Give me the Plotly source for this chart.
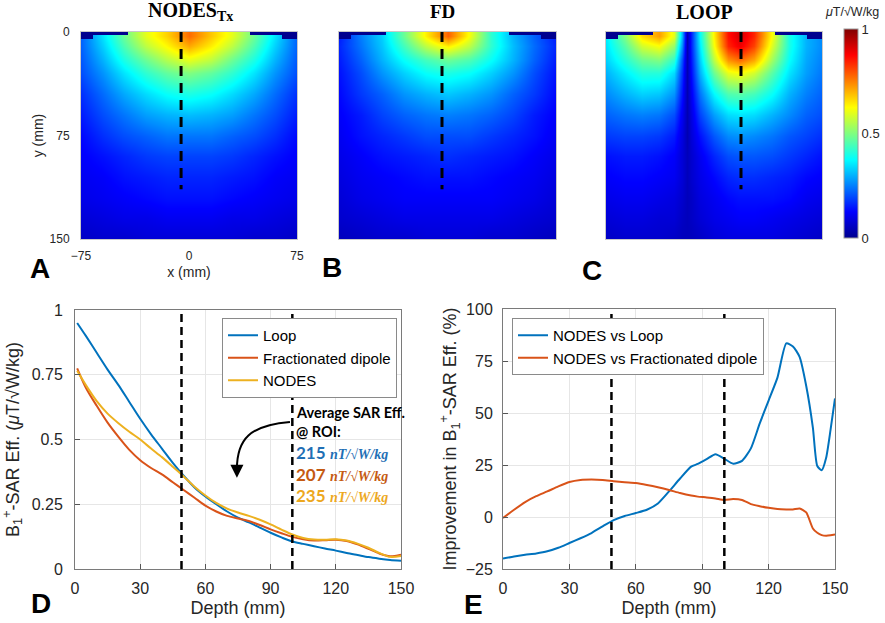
import plotly.graph_objects as go

W, H = 885, 623

hm_depth = [3, 10, 20, 30, 45, 60, 75, 90, 105, 120, 135, 150]

nodes_x = [-75, -60, -45, -30, -15, 0, 15, 30, 45, 60, 75]
nodes_z = [
    [0.22, 0.35, 0.48, 0.60, 0.67, 0.77, 0.68, 0.60, 0.48, 0.35, 0.22],
    [0.22, 0.33, 0.45, 0.56, 0.63, 0.71, 0.64, 0.56, 0.45, 0.33, 0.22],
    [0.21, 0.30, 0.40, 0.48, 0.55, 0.60, 0.56, 0.48, 0.40, 0.30, 0.21],
    [0.20, 0.27, 0.35, 0.42, 0.47, 0.50, 0.47, 0.42, 0.35, 0.27, 0.20],
    [0.17, 0.23, 0.29, 0.34, 0.38, 0.40, 0.38, 0.34, 0.29, 0.23, 0.17],
    [0.15, 0.20, 0.24, 0.28, 0.30, 0.31, 0.30, 0.28, 0.24, 0.20, 0.15],
    [0.13, 0.17, 0.20, 0.22, 0.24, 0.24, 0.24, 0.22, 0.20, 0.17, 0.13],
    [0.12, 0.14, 0.16, 0.18, 0.19, 0.19, 0.19, 0.18, 0.16, 0.14, 0.12],
    [0.11, 0.12, 0.14, 0.15, 0.16, 0.16, 0.16, 0.15, 0.14, 0.12, 0.11],
    [0.10, 0.11, 0.12, 0.13, 0.14, 0.14, 0.14, 0.13, 0.12, 0.11, 0.10],
    [0.08, 0.09, 0.10, 0.10, 0.11, 0.11, 0.11, 0.10, 0.10, 0.09, 0.08],
    [0.06, 0.07, 0.07, 0.08, 0.08, 0.08, 0.08, 0.08, 0.07, 0.07, 0.06],
]

fd_x = [-75, -60, -45, -30, -15, 0, 15, 30, 45, 60, 75]
fd_z = [
    [0.15, 0.25, 0.33, 0.48, 0.64, 0.78, 0.62, 0.42, 0.30, 0.22, 0.15],
    [0.16, 0.24, 0.32, 0.44, 0.56, 0.64, 0.56, 0.42, 0.31, 0.23, 0.16],
    [0.15, 0.22, 0.30, 0.38, 0.44, 0.48, 0.45, 0.38, 0.30, 0.22, 0.15],
    [0.14, 0.20, 0.27, 0.33, 0.38, 0.40, 0.38, 0.33, 0.27, 0.20, 0.14],
    [0.13, 0.18, 0.22, 0.27, 0.30, 0.32, 0.30, 0.27, 0.22, 0.18, 0.13],
    [0.12, 0.15, 0.19, 0.22, 0.24, 0.25, 0.24, 0.22, 0.19, 0.15, 0.12],
    [0.11, 0.14, 0.16, 0.18, 0.20, 0.20, 0.20, 0.18, 0.16, 0.14, 0.11],
    [0.10, 0.12, 0.14, 0.15, 0.16, 0.17, 0.16, 0.15, 0.14, 0.12, 0.10],
    [0.09, 0.11, 0.12, 0.13, 0.14, 0.14, 0.14, 0.13, 0.12, 0.11, 0.09],
    [0.08, 0.10, 0.11, 0.12, 0.12, 0.12, 0.12, 0.12, 0.11, 0.10, 0.08],
    [0.07, 0.08, 0.09, 0.10, 0.10, 0.10, 0.10, 0.10, 0.09, 0.08, 0.07],
    [0.05, 0.06, 0.07, 0.07, 0.08, 0.08, 0.08, 0.07, 0.07, 0.06, 0.05],
]

loop_x = [-75, -62, -50, -38, -28, -22, -19, -16, -10, 0, 10, 18, 28, 40, 52, 64, 75]
loop_z = [
    [0.36, 0.50, 0.66, 0.72, 0.60, 0.30, 0.04, 0.15, 0.38, 0.64, 0.86, 0.92, 0.84, 0.62, 0.40, 0.30, 0.26],
    [0.35, 0.46, 0.58, 0.62, 0.52, 0.26, 0.04, 0.15, 0.36, 0.62, 0.84, 0.89, 0.81, 0.59, 0.40, 0.30, 0.26],
    [0.33, 0.41, 0.48, 0.50, 0.42, 0.20, 0.04, 0.14, 0.33, 0.56, 0.73, 0.77, 0.71, 0.53, 0.38, 0.29, 0.25],
    [0.30, 0.36, 0.41, 0.41, 0.34, 0.17, 0.04, 0.13, 0.30, 0.48, 0.60, 0.62, 0.58, 0.46, 0.35, 0.28, 0.24],
    [0.26, 0.30, 0.33, 0.32, 0.27, 0.14, 0.04, 0.11, 0.24, 0.37, 0.45, 0.46, 0.44, 0.38, 0.30, 0.25, 0.22],
    [0.22, 0.24, 0.25, 0.24, 0.20, 0.11, 0.04, 0.09, 0.19, 0.28, 0.34, 0.35, 0.34, 0.30, 0.26, 0.22, 0.20],
    [0.18, 0.19, 0.19, 0.18, 0.15, 0.09, 0.04, 0.08, 0.14, 0.21, 0.26, 0.27, 0.26, 0.24, 0.21, 0.19, 0.17],
    [0.14, 0.15, 0.15, 0.14, 0.12, 0.08, 0.05, 0.07, 0.11, 0.16, 0.20, 0.21, 0.21, 0.20, 0.18, 0.16, 0.14],
    [0.12, 0.13, 0.13, 0.12, 0.11, 0.08, 0.05, 0.07, 0.10, 0.13, 0.16, 0.17, 0.17, 0.16, 0.15, 0.13, 0.12],
    [0.10, 0.11, 0.11, 0.10, 0.09, 0.07, 0.05, 0.06, 0.09, 0.11, 0.13, 0.14, 0.14, 0.14, 0.13, 0.11, 0.10],
    [0.08, 0.09, 0.09, 0.08, 0.08, 0.06, 0.05, 0.06, 0.08, 0.10, 0.11, 0.12, 0.12, 0.11, 0.10, 0.09, 0.08],
    [0.06, 0.07, 0.07, 0.07, 0.06, 0.05, 0.05, 0.05, 0.06, 0.08, 0.09, 0.09, 0.09, 0.09, 0.08, 0.07, 0.06],
]

# air gap strip at the top of each map (x edges, depth edges)
strip_x_edges = [-75, -66.5, -42.4, 42.4, 64.6, 75]
strip_y_edges = [0, 2, 5]
strip_z = [[0, 0, None, 0, 0], [0, None, None, None, 0]]

# dashed profile lines on the maps: x position of each and depth extent
probe_x = [-5.5, -3.8, 18.75]
probe_depth = [0, 114]

map_titles = ["<b>NODES<sub>Tx</sub></b>", "<b>FD</b>", "<b>LOOP</b>"]

# ---------------- line plot data ----------------
depth_d = [1, 5, 10, 15, 20, 25, 30, 35, 40, 45, 50, 55, 60, 65, 70, 75, 80, 85, 90, 95,
           100, 105, 110, 115, 120, 125, 130, 135, 140, 145, 150]
loop_eff = [0.95, 0.90, 0.835, 0.77, 0.71, 0.645, 0.58, 0.52, 0.465, 0.41, 0.36, 0.315, 0.28,
            0.25, 0.222, 0.198, 0.18, 0.16, 0.14, 0.122, 0.106, 0.097, 0.088, 0.079, 0.071,
            0.062, 0.054, 0.046, 0.04, 0.035, 0.032]
fd_eff = [0.775, 0.70, 0.63, 0.565, 0.51, 0.46, 0.42, 0.39, 0.365, 0.335, 0.305, 0.275, 0.245,
          0.222, 0.205, 0.195, 0.185, 0.17, 0.153, 0.138, 0.124, 0.115, 0.11, 0.111, 0.113,
          0.108, 0.095, 0.078, 0.06, 0.049, 0.055]
nodes_eff = [0.765, 0.71, 0.648, 0.60, 0.563, 0.53, 0.50, 0.465, 0.432, 0.395, 0.357, 0.318,
             0.284, 0.255, 0.233, 0.218, 0.205, 0.19, 0.172, 0.152, 0.133, 0.12, 0.114, 0.113,
             0.115, 0.11, 0.098, 0.082, 0.062, 0.047, 0.05]

depth_e = [0, 5, 10, 15, 20, 25, 30, 35, 40, 45, 50, 55, 60, 65, 70, 75, 80, 85, 88, 92, 96,
           100, 104, 108, 112, 116, 120, 124, 128, 131, 134, 137, 140, 142, 144, 146, 148, 150]
vs_loop = [-20, -19, -18.2, -17.5, -16.5, -14.8, -12.5, -10.2, -7.7, -4.5, -1.5, 0.5, 1.9, 3.5,
           6.5, 12.3, 18.5, 24.2, 25.5, 27.8, 30.2, 28, 25.6, 27, 33, 45, 56, 67, 83.5, 82, 77,
           63, 43, 24.5, 22.5, 28.5, 42, 57]
vs_fd = [-0.5, 3.5, 7.2, 10, 12.3, 14.7, 16.8, 17.8, 18, 17.8, 17.2, 16.7, 16.3, 15.4, 14.3, 13,
         11.5, 10.3, 9.8, 9.4, 8.9, 8.2, 8.6, 8.2, 6.2, 5.2, 4.4, 3.8, 3.6, 3.6, 4.1, 2.2, -5.5,
         -7.6, -8.7, -9.0, -8.8, -8.4]

roi_bounds = [49, 100]
avg_eff_values = [215, 207, 235]

BLUE, ORANGE, YELLOW = "#0072BD", "#D95319", "#EDB120"
TXT_COLORS = ["#1F6FB5", "#C55A11", "#EDA81E"]

jet = [[0.0, "rgb(0,0,143)"], [0.125, "rgb(0,0,255)"], [0.375, "rgb(0,255,255)"],
       [0.625, "rgb(255,255,0)"], [0.875, "rgb(255,0,0)"], [1.0, "rgb(128,0,0)"]]


def px(x):
    return x / W


def py(y):
    return 1 - y / H


fig = go.Figure()

maps = [(nodes_x, nodes_z), (fd_x, fd_z), (loop_x, loop_z)]
for i, (mx, mz) in enumerate(maps):
    ax = "" if i == 0 else str(i + 1)
    fig.add_trace(go.Heatmap(x=mx, y=hm_depth, z=mz, coloraxis="coloraxis", zsmooth="best",
                             xaxis="x" + ax, yaxis="y" + ax, hoverinfo="skip"))
    fig.add_trace(go.Heatmap(x=strip_x_edges, y=strip_y_edges, z=strip_z, coloraxis="coloraxis",
                             xaxis="x" + ax, yaxis="y" + ax, hoverinfo="skip"))
    fig.add_trace(go.Scatter(x=[probe_x[i]] * 2, y=probe_depth, mode="lines",
                             line=dict(color="black", width=3, dash="10px,7px"),
                             xaxis="x" + ax, yaxis="y" + ax, showlegend=False, hoverinfo="skip"))

# panel D
for name, vals, col in [("Loop", loop_eff, BLUE), ("Fractionated dipole", fd_eff, ORANGE),
                        ("NODES", nodes_eff, YELLOW)]:
    fig.add_trace(go.Scatter(x=depth_d, y=vals, name=name, mode="lines",
                             line=dict(color=col, width=2, shape="spline", smoothing=0.8),
                             xaxis="x4", yaxis="y4", legend="legend"))
# panel E
for name, vals, col in [("NODES vs Loop", vs_loop, BLUE),
                        ("NODES vs Fractionated dipole", vs_fd, ORANGE)]:
    fig.add_trace(go.Scatter(x=depth_e, y=vals, name=name, mode="lines",
                             line=dict(color=col, width=2, shape="spline", smoothing=0.6),
                             xaxis="x5", yaxis="y5", legend="legend2"))

SANS = "Liberation Sans, Arial"
tickfont_small = dict(family=SANS, size=12, color="#262626")
tickfont = dict(family=SANS, size=16, color="#262626")

map_dom_x = [[81, 297], [339, 556], [606, 822]]
map_dom_y = [py(239), py(32)]
layout_axes = {}
for i, (a, b) in enumerate(map_dom_x):
    sfx = "" if i == 0 else str(i + 1)
    first = i == 0
    layout_axes["xaxis" + sfx] = dict(
        domain=[px(a), px(b)], range=[-75, 75], anchor="y" + sfx,
        tickvals=[-75, 0, 75], showticklabels=first, ticks="", showgrid=False, zeroline=False,
        showline=True, mirror=True, linecolor="#c8c8c8", linewidth=1,
        tickfont=tickfont_small, ticklabelstandoff=6,
        title=dict(text="x (mm)" if first else "", font=dict(family=SANS, size=14, color="#262626"), standoff=4))
    layout_axes["yaxis" + sfx] = dict(
        domain=map_dom_y, range=[150, 0], anchor="x" + sfx,
        tickvals=[0, 75, 150], showticklabels=first, ticks="", showgrid=False, zeroline=False,
        showline=True, mirror=True, linecolor="#c8c8c8", linewidth=1,
        tickfont=tickfont_small, ticklabelstandoff=8,
        title=dict(text="y (mm)" if first else "", font=dict(family=SANS, size=14, color="#262626"), standoff=2))

common_line_axis = dict(showline=True, mirror=True, linecolor="#7a7a7a", linewidth=1,
                        ticks="inside", ticklen=5, tickcolor="#555", showgrid=True,
                        gridcolor="#e6e6e6", zeroline=False, tickfont=tickfont)

layout_axes["xaxis4"] = dict(domain=[px(75), px(401)], range=[0, 150], anchor="y4",
                             tickvals=[0, 30, 60, 90, 120, 150], ticklabelstandoff=5,
                             title=dict(text="Depth (mm)", font=dict(family=SANS, size=18, color="#262626"), standoff=5),
                             **common_line_axis)
layout_axes["yaxis4"] = dict(domain=[py(569), py(310)], range=[0, 1], anchor="x4",
                             tickvals=[0, 0.25, 0.5, 0.75, 1], ticktext=["0", "0.25", "0.5", "0.75", "1"],
                             ticklabelstandoff=8,
                             title=dict(text="B<sub>1</sub><sup>+</sup>-SAR Eff. (<i>μ</i>T/√W/kg)",
                                        font=dict(family=SANS, size=18, color="#262626"), standoff=8),
                             **common_line_axis)
layout_axes["xaxis5"] = dict(domain=[px(503), px(835)], range=[0, 150], anchor="y5",
                             tickvals=[0, 30, 60, 90, 120, 150], ticklabelstandoff=5,
                             title=dict(text="Depth (mm)", font=dict(family=SANS, size=18, color="#262626"), standoff=5),
                             **common_line_axis)
layout_axes["yaxis5"] = dict(domain=[py(569), py(309)], range=[-25, 100], anchor="x5",
                             tickvals=[-25, 0, 25, 50, 75, 100], ticklabelstandoff=6,
                             title=dict(text="Improvement in B<sub>1</sub><sup>+</sup>-SAR Eff. (%)",
                                        font=dict(family=SANS, size=18, color="#262626"), standoff=4),
                             **common_line_axis)

shapes = []
for xr in roi_bounds:
    for ax in ["4", "5"]:
        shapes.append(dict(type="line", xref="x" + ax, yref="y" + ax + " domain", x0=xr, x1=xr,
                           y0=0, y1=1, line=dict(color="black", width=2.5, dash="8px,5px"), layer="above"))
# curved arrow
shapes.append(dict(type="path", xref="x4", yref="y4",
                   path="M 98.9,0.568 C 80.5,0.556 74.5,0.50 74.5,0.385",
                   line=dict(color="black", width=2)))

annotations = []
for t, cx, fs in zip(map_titles, [190, 442, 704], [20, 19, 20]):
    annotations.append(dict(x=px(cx), y=py(12), xref="paper", yref="paper", text=t, showarrow=False,
                            font=dict(family="Liberation Serif, Times New Roman", size=fs, color="black"),
                            xanchor="center", yanchor="middle"))

for letter, (lx, ly) in zip("ABCDE", [(40, 268), (332, 267), (592, 270), (41, 603), (473, 604)]):
    annotations.append(dict(x=px(lx), y=py(ly), xref="paper", yref="paper", text="<b>" + letter + "</b>",
                            showarrow=False, font=dict(family=SANS, size=28, color="black"),
                            xanchor="center", yanchor="middle"))

annotations.append(dict(x=px(852), y=py(12), xref="paper", yref="paper", text="<i>μ</i>T/√W/kg",
                        showarrow=False, font=dict(family=SANS, size=12.5, color="#262626"),
                        xanchor="center", yanchor="middle"))

# arrow head
annotations.append(dict(x=74.5, y=0.352, xref="x4", yref="y4", ax=74.5, ay=0.40, axref="x4", ayref="y4",
                        showarrow=True, arrowhead=2, arrowsize=1.3, arrowwidth=2, arrowcolor="black", text=""))

annot_font = dict(family="Lato, Open Sans", size=14.5, color="black")
annotations.append(dict(x=px(294), y=py(412), xref="paper", yref="paper", text="<b>Average SAR Eff.</b>",
                        showarrow=False, font=annot_font, xanchor="left", yanchor="middle"))
annotations.append(dict(x=px(294), y=py(431), xref="paper", yref="paper", text="<b>@ ROI:</b>",
                        showarrow=False, font=annot_font, xanchor="left", yanchor="middle"))
for j, (v, yy) in enumerate(zip(avg_eff_values, [452, 474, 495])):
    c = TXT_COLORS[j]
    annotations.append(dict(x=px(294), y=py(yy), xref="paper", yref="paper",
                            text=f"<b>{v}</b> <span style='font-family:Liberation Serif;font-size:14px'><b><i>nT/√W/kg</i></b></span>",
                            showarrow=False, font=dict(family="Lato, Open Sans", size=17, color=c),
                            xanchor="left", yanchor="middle"))

fig.update_layout(
    width=W, height=H, margin=dict(l=0, r=0, t=0, b=0, autoexpand=False),
    paper_bgcolor="white", plot_bgcolor="white",
    coloraxis=dict(colorscale=jet, cmin=0, cmax=1,
                   colorbar=dict(x=px(844), xanchor="left", y=py(238), yanchor="bottom",
                                 len=(238 - 29) / H, lenmode="fraction", thickness=14,
                                 xpad=0, ypad=0, outlinewidth=1, outlinecolor="#9a9a9a",
                                 tickvals=[0, 0.5, 1], ticktext=["0", "0.5", "1"], ticks="",
                                 tickfont=dict(family=SANS, size=13, color="#262626"))),
    legend=dict(x=px(222), y=py(318), xanchor="left", yanchor="top", bgcolor="white",
                bordercolor="#8a8a8a", borderwidth=1, font=dict(family=SANS, size=15, color="black"),
                itemwidth=30, tracegroupgap=0),
    legend2=dict(x=px(512), y=py(318), xanchor="left", yanchor="top", bgcolor="white",
                 bordercolor="#8a8a8a", borderwidth=1, font=dict(family=SANS, size=15, color="black"),
                 itemwidth=30, tracegroupgap=0),
    shapes=shapes, annotations=annotations, showlegend=True,
    **layout_axes,
)

fig.write_html("out.html", config={"displayModeBar": False},
               post_script="document.body.style.margin='0px';document.body.style.padding='0px';")
